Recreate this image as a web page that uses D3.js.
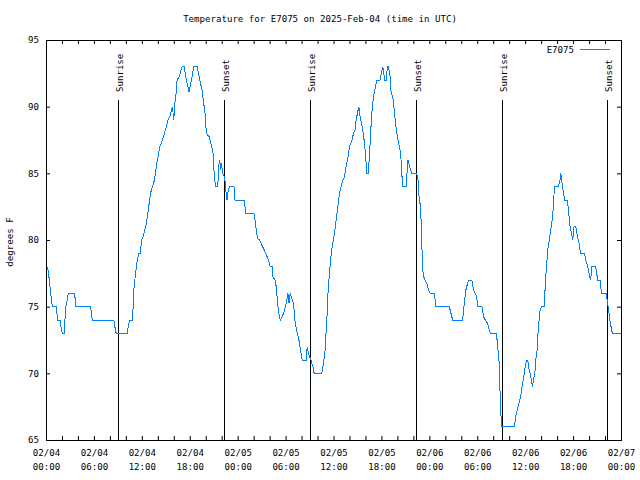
<!DOCTYPE html>
<html><head><meta charset="utf-8">
<script src="https://cdn.jsdelivr.net/npm/d3@7"></script>
<style>
body{margin:0;background:#fff}
text{font-family:"DejaVu Sans Mono",monospace;font-size:9.1px;fill:#000}
</style>
</head><body><svg id="c" width="640" height="480"></svg>
<script>
// hours since 2025-02-04 00:00 UTC
const hours = [0.2,0.42,0.58,0.79,1.33,1.42,1.75,1.87,2.04,2.29,2.42,2.5,2.79,3.58,3.75,5.58,5.79,8.5,8.62,8.79,10.17,10.29,10.5,10.79,10.92,11.0,11.17,11.33,11.42,11.62,11.83,11.96,12.17,12.375,12.58,12.75,12.92,13.08,13.33,13.58,13.75,13.87,14.04,14.25,14.58,14.83,15.08,15.29,15.5,15.71,15.83,16.0,16.125,16.25,16.42,16.67,17.04,17.29,17.58,17.92,18.21,18.5,18.92,19.25,19.54,19.75,19.92,20.08,20.42,20.71,20.92,21.0,21.08,21.25,21.5,21.67,21.75,21.87,22.0,22.08,22.37,22.5,22.67,22.83,23.0,23.54,23.67,24.875,24.96,26.04,
26.17,26.33,26.5,26.75,27.04,27.33,27.5,27.875,28.08,28.33,28.42,28.67,28.83,29.04,29.17,29.33,29.58,29.875,30.08,30.29,30.42,30.58,31.0,31.21,31.46,31.67,31.875,32.08,32.58,32.71,32.875,33.17,33.42,33.58,34.54,34.75,34.96,35.08,35.21,35.33,35.5,35.625,35.83,36.125,36.33,36.54,36.75,37.04,37.375,37.58,37.83,38.0,38.33,38.5,38.71,38.83,39.17,39.33,39.67,39.83,40.0,40.17,40.33,40.5,40.67,40.83,41.0,41.17,41.42,41.83,42.17,42.42,42.6,42.75,42.875,43.08,43.21,43.5,43.625,43.83,44.0,44.17,44.33,44.46,44.58,44.67,45.08,45.33,45.54,45.79,46.42,46.58,46.67,46.83,46.92,47.04,47.08,47.17,47.29,47.46,47.67,47.92,48.125,48.625,48.83,50.5,50.71,50.92,52.17,52.29,52.42,52.58,52.79,52.92,53.33,53.54,53.75,53.92,54.08,54.58,54.79,55.0,55.29,55.5,55.67,56.42,56.54,56.67,56.75,56.83,56.92,57.0,57.08,58.67,58.79,58.92,59.125,59.33,59.5,59.67,59.83,60.0,60.17,60.33,60.5,60.71,60.92,61.04,61.21,61.33,61.5,61.625,61.875,62.04,62.375,62.58,62.83,63.08,63.33,63.5,63.67,64.125,64.375,64.46,64.67,64.96,65.29,65.46,65.625,65.79,65.96,66.125,66.33,66.54,66.75,66.92,67.42,67.58,67.83,68.08,68.21,68.33,68.83,69.08,69.42,69.54,70.16,70.33,70.5,70.67,70.92,72.0];
const temps = [78,77,76,75,75,74,74,73.5,73,73,74.5,75,76,76,75,75,74,74,73.5,73,73,73.5,74,74,75,76.25,77.25,78,78.5,79,79,80,80.25,80.75,81.25,82,82.75,83.5,84,84.5,85.25,85.75,86.25,87,87.5,88,88.5,89,89.25,89.75,90,89,90.25,90.75,92,92.25,93,93,92,91.1,92,93,93,92,91.25,90.25,89.5,88,87.75,87.1,86.5,85.5,84.75,84,84,85.75,86,85.25,85.75,85,84.75,83.75,83,83.75,84,84,83,83,82,82,
81.5,80.75,80.1,80,79.6,79.25,79,78.5,78,78,77.25,77,76.5,75,74.5,74,74.25,74.75,75.25,76,75.25,76,75.25,73.75,73,72.5,71.75,71,71,72,71.5,71,70.5,70,70,70.75,71.75,73.25,74.5,76.25,77.5,78.5,79.5,80.5,81.5,82.5,83.5,84.25,84.75,85.5,86.25,87,87.5,88,88.25,89,90,89.25,88.25,87.5,86.5,85,85,86.25,88.25,89.75,90.75,91.25,92,92,93,92,92,93,93,92.25,91.1,90.5,89.5,88.5,87.75,87.25,86.75,86,84.75,84,84,86,85.5,85,85,84.5,83.5,82.75,82,80.75,79.25,77.75,77.25,77,76.75,76.25,76,76,75,75,74.5,74,74,74.75,75.5,76.25,76.75,77,77,76.25,76,75.75,75,75,74.25,74,73.75,73.25,73,73,72,71.5,70.7,69,67.5,66.5,66,66,66.75,67,67.5,68,68.5,69.25,69.75,70.5,71,71,70.25,69.75,69,69.5,70,71,71.75,73.25,74.75,75,75,77.25,79.25,80.25,81.25,82.25,84,84,84.5,85,84,83,83,82,81,80.5,80,81,81,80.25,79.75,79,79,78.5,78,77.25,77,78,78,77,77,76,76,75.25,74.5,73.75,73,73];
const sunriseHours = [9.05, 33.1, 57.14];
const sunsetHours = [22.29, 46.37, 70.3];
const majorTickHours = [0,6,12,18,24,30,36,42,48,54,60,66,72];
const majorTickLabels = ["02/04\n00:00","02/04\n06:00","02/04\n12:00","02/04\n18:00","02/05\n00:00","02/05\n06:00","02/05\n12:00","02/05\n18:00","02/06\n00:00","02/06\n06:00","02/06\n12:00","02/06\n18:00","02/07\n00:00"];
const minorTickHours = [0,2,4,6,8,10,12,14,16,18,20,22,24,26,28,30,32,34,36,38,40,42,44,46,48,50,52,54,56,58,60,62,64,66,68,70,72];
const yTicks = [65,70,75,80,85,90,95];
const seriesName = "E7075";
const titleText = "Temperature for E7075 on 2025-Feb-04 (time in UTC)";
const yLabel = "degrees F";

const svg = d3.select("#c");
const L=46, R=621, T=40, B=440;
const x = d3.scaleLinear().domain([0,72]).range([L,R]);
const y = d3.scaleLinear().domain([65,95]).range([B,T]);
const data = hours.map((h,i)=>({h, t:temps[i]}));

// frame
svg.append("rect").attr("x",L+0.5).attr("y",T+0.5).attr("width",R-L).attr("height",B-T)
  .attr("fill","none").attr("stroke","#000").attr("stroke-width",1);

// axes
const labelMap = new Map(majorTickHours.map((h,i)=>[h,majorTickLabels[i]]));
const gx = svg.append("g").attr("transform",`translate(0,${B})`)
  .call(d3.axisBottom(x).tickValues(minorTickHours).tickSize(-4).tickPadding(10)
    .tickFormat(d=>labelMap.get(d)||""));
gx.selectAll(".tick text").each(function(d){
  const s = labelMap.get(d); const t = d3.select(this);
  t.text(null);
  if(!s) return;
  const parts = s.split("\n");
  t.append("tspan").attr("x",0).text(parts[0]);
  t.append("tspan").attr("x",0).attr("dy","14px").text(parts[1]);
});
svg.append("g").attr("transform",`translate(0,${T})`)
  .call(d3.axisTop(x).tickValues(minorTickHours).tickSize(-4).tickFormat(""));
svg.append("g").attr("transform",`translate(${L},0)`)
  .call(d3.axisLeft(y).tickValues(yTicks).tickSize(-4).tickPadding(7).tickFormat(d3.format("d")));
svg.append("g").attr("transform",`translate(${R},0)`)
  .call(d3.axisRight(y).tickValues(yTicks).tickSize(-4).tickFormat(""));
svg.selectAll(".domain").remove();
svg.selectAll(".tick line").attr("stroke","#000");
svg.selectAll(".tick text").attr("font-family",null).attr("font-size",null).attr("fill","#000");

// sunrise / sunset
const events = sunriseHours.map(h=>({h,label:"Sunrise"})).concat(sunsetHours.map(h=>({h,label:"Sunset"})));
const ev = svg.append("g").selectAll("g").data(events).join("g");
ev.append("line").attr("x1",d=>Math.round(x(d.h))+0.5).attr("x2",d=>Math.round(x(d.h))+0.5)
  .attr("y1",100).attr("y2",B).attr("stroke","#000").attr("stroke-width",1);
ev.append("text").attr("transform",d=>`translate(${Math.round(x(d.h))+0.5},92) rotate(-90)`)
  .attr("dy",4.5).attr("text-anchor","start").text(d=>d.label);

// series line
svg.append("path").datum(data)
  .attr("d", d3.line().x(d=>x(d.h)).y(d=>y(d.t)))
  .attr("fill","none").attr("stroke","#0080ff").attr("stroke-width",1)
  .attr("shape-rendering","crispEdges");

// title & labels
svg.append("text").attr("x",320).attr("y",22).attr("text-anchor","middle").text(titleText);
svg.append("text").attr("transform","translate(10,242) rotate(-90)").attr("dy",3.3)
  .attr("text-anchor","middle").text(yLabel);

// legend
svg.append("text").attr("x",574).attr("y",53).attr("text-anchor","end").text(seriesName);
svg.append("line").attr("x1",580).attr("x2",610).attr("y1",49.5).attr("y2",49.5)
  .attr("stroke","#0080ff").attr("stroke-width",1);
</script></body></html>
